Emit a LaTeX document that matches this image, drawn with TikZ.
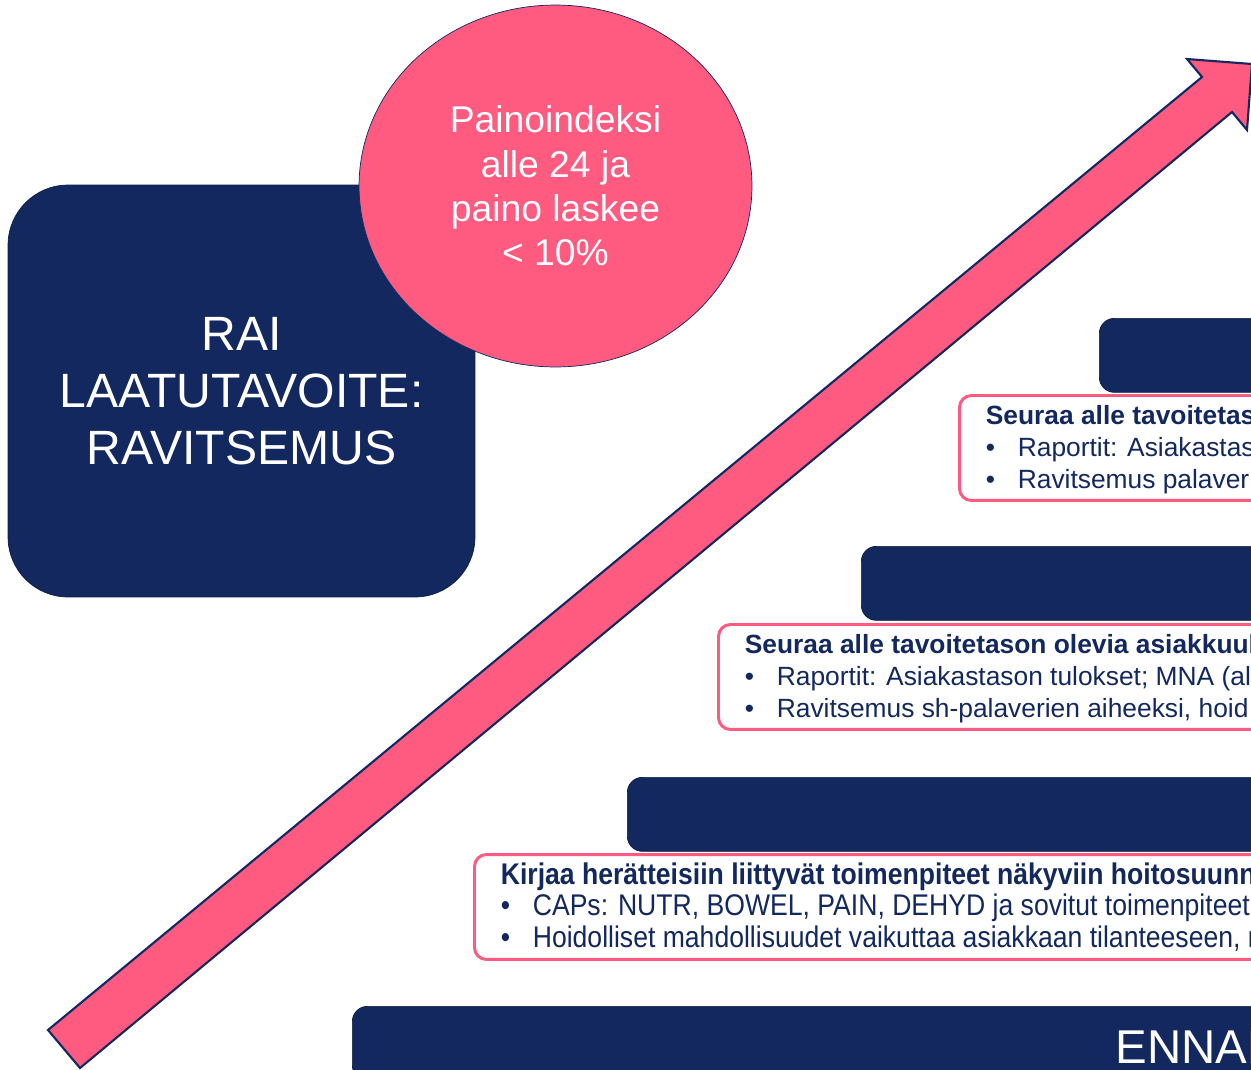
\documentclass[tikz,border=0pt]{standalone}
\usepackage{fontspec}
\setmainfont{Liberation Sans}
\newfontfamily\narrowfont[FakeStretch=0.89]{Liberation Sans}
\usepackage{xcolor}
\usetikzlibrary{shapes.geometric, positioning}
\definecolor{raiblue}{RGB}{19,40,94}
\definecolor{raipink}{RGB}{255,90,128}
\newcommand{\bulletrow}[1]{\makebox[0.64cm][l]{\textbullet}#1}

\begin{document}
\begin{tikzpicture}[
    x=0.02cm, y=-0.02cm,
    goalbox/.style={rectangle, rounded corners=1.2cm, draw=raiblue!70!black, fill=raiblue, minimum width=9.34cm, minimum height=8.24cm, text=white, align=center, font=\fontsize{27.4}{32.4}\selectfont},
    bubble/.style={ellipse, draw=raiblue, fill=raipink, minimum width=7.86cm, minimum height=7.24cm, text=white, align=center, font=\fontsize{21.2}{25.3}\selectfont},
    stepbar/.style={rectangle, rounded corners=0.3cm, draw=raiblue!70!black, fill=raiblue, minimum width=20cm, minimum height=1.48cm, anchor=north west},
    notebox/.style={rectangle, rounded corners=0.24cm, draw=raipink, line width=1.7pt, fill=white, minimum width=20cm, minimum height=2.1cm, anchor=north west},
    notetext/.style={inner sep=0pt, align=left, text=raiblue, font=\fontsize{15}{18.2}\selectfont},
    bigarrow/.style={draw=raiblue, line width=1.2pt, fill=raipink, line join=miter}
]
    \useasboundingbox (0,0) rectangle (1251,1069);
    \clip (0,0) rectangle (1251,1069);

    % Arrow
    \draw[bigarrow] (48,1030) -- (1202,77) -- (1187,59) -- (1252,64) -- (1247,130) -- (1232,112) -- (80,1068) -- cycle;

    % Goal
    \node[goalbox] (goal) at (241.5,391) {RAI\\LAATUTAVOITE:\\RAVITSEMUS};
    \node[bubble] (bmi) at (555.5,186) {Painoindeksi\\alle 24 ja\\paino laskee\\< 10\%};

    % Steps
    \node[stepbar] (step1) at (352,1006) {};
    \node[anchor=base west, inner sep=0pt, text=white, font=\fontsize{27}{32}\selectfont] (step1text) at (1115,1063) {ENNAL};
    \node[stepbar] (step2) at (627,777) {};
    \node[stepbar] (step3) at (861,546) {};
    \node[stepbar] (step4) at (1099,318) {};

    % Notes
    \node[notebox] (note2) at (473,853) {};
    \node[notetext, below right=0.18cm and 0.55cm of note2.north west, font=\narrowfont\fontsize{17}{18.2}\selectfont] (note2text) {%
        \textbf{Kirjaa herätteisiin liittyvät toimenpiteet näkyviin hoitosuunn}\\
        \bulletrow{CAPs: NUTR, BOWEL, PAIN, DEHYD ja sovitut toimenpiteet}\\
        \bulletrow{Hoidolliset mahdollisuudet vaikuttaa asiakkaan tilanteeseen, m}};

    \node[notebox] (note3) at (717,623) {};
    \node[notetext, below right=0.23cm and 0.55cm of note3.north west] (note3text) {%
        \textbf{Seuraa alle tavoitetason olevia asiakkuuk}\\
        \bulletrow{Raportit: Asiakastason tulokset; MNA (al}\\
        \bulletrow{Ravitsemus sh-palaverien aiheeksi, hoid}};

    \node[notebox] (note4) at (958,394) {};
    \node[notetext, below right=0.23cm and 0.55cm of note4.north west] (note4text) {%
        \textbf{Seuraa alle tavoitetas}\\
        \bulletrow{Raportit: Asiakastas}\\
        \bulletrow{Ravitsemus palaver}};
\end{tikzpicture}
\end{document}
